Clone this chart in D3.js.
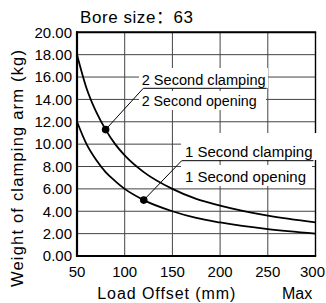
<!DOCTYPE html>
<html>
<head>
<meta charset="utf-8">
<script src="https://cdn.jsdelivr.net/npm/d3@7"></script>
<style>
  body { margin: 0; background: #fff; }
  text { font-family: "Liberation Sans", Arial, "Noto Sans CJK SC", sans-serif; fill: #000; }
</style>
</head>
<body>
<div id="chart"></div>
<script>
// chart values
var offsets    = [50, 60, 70, 80, 90, 100, 120, 150, 175, 200, 250, 300];
var twoSecond  = [18.0, 15.0, 12.9, 11.3, 10.0, 9.0, 7.5, 6.0, 5.1, 4.5, 3.6, 3.0];
var oneSecond  = [12.0, 10.0, 8.6, 7.5, 6.7, 6.0, 5.0, 4.0, 3.4, 3.0, 2.4, 2.0];
var xTicks = [50, 100, 150, 200, 250, 300];
var yTicks = [0, 2, 4, 6, 8, 10, 12, 14, 16, 18, 20];
// marked points for the labels
var twoDot = {x: 80, y: 11.3};
var oneDot = {x: 120, y: 5.0};

var svgWidth = 326;
var svgHeight = 303;

var svg = d3.select("#chart")
  .append("svg")
  .attr("width", svgWidth)
  .attr("height", svgHeight);

var xScale = d3.scaleLinear().domain([50, 300]).range([77, 315.5]);
var yScale = d3.scaleLinear().domain([0, 20]).range([256, 32.3]);

// grid
svg.append("g").selectAll("line")
  .data(yTicks)
  .enter().append("line")
  .attr("x1", xScale(50)).attr("x2", xScale(300))
  .attr("y1", d => yScale(d)).attr("y2", d => yScale(d))
  .attr("stroke", "#444").attr("stroke-width", 1);

svg.append("g").selectAll("line")
  .data(xTicks)
  .enter().append("line")
  .attr("x1", d => xScale(d)).attr("x2", d => xScale(d))
  .attr("y1", yScale(0)).attr("y2", yScale(20))
  .attr("stroke", "#444").attr("stroke-width", 1);

// frame
svg.append("line").attr("x1", xScale(50)).attr("x2", xScale(50))
  .attr("y1", yScale(20) - 1).attr("y2", yScale(0) + 1)
  .attr("stroke", "#000").attr("stroke-width", 2.2);
svg.append("line").attr("x1", xScale(50) - 1).attr("x2", xScale(300) + 0.7)
  .attr("y1", yScale(0)).attr("y2", yScale(0))
  .attr("stroke", "#000").attr("stroke-width", 2);
svg.append("line").attr("x1", xScale(50) - 1).attr("x2", xScale(300) + 0.7)
  .attr("y1", yScale(20)).attr("y2", yScale(20))
  .attr("stroke", "#000").attr("stroke-width", 2);
svg.append("line").attr("x1", xScale(300)).attr("x2", xScale(300))
  .attr("y1", yScale(20)).attr("y2", yScale(0))
  .attr("stroke", "#000").attr("stroke-width", 1.4);

// tick labels
svg.append("g").selectAll("text")
  .data(yTicks)
  .enter().append("text")
  .attr("x", 72)
  .attr("y", d => yScale(d) + 5.3)
  .attr("text-anchor", "end")
  .attr("font-size", "15px")
  .text(d => d.toFixed(2));

svg.append("g").selectAll("text")
  .data(xTicks)
  .enter().append("text")
  .attr("x", d => Math.min(xScale(d), 312.5))
  .attr("y", 277)
  .attr("text-anchor", "middle")
  .attr("font-size", "15px")
  .text(d => d);

// curves
var line = d3.line()
  .x(d => xScale(d[0]))
  .y(d => yScale(d[1]))
  .curve(d3.curveMonotoneX);

[twoSecond, oneSecond].forEach(series => {
  svg.append("path")
    .datum(offsets.map((o, i) => [o, series[i]]))
    .attr("d", line)
    .attr("fill", "none")
    .attr("stroke", "#000")
    .attr("stroke-width", 1.8);
});

// label boxes
var boxes = [
  [139, 68, 129, 20],
  [139, 91, 127, 19],
  [181, 133, 136, 27],
  [181, 165, 131, 21]
];
svg.append("g").selectAll("rect")
  .data(boxes)
  .enter().append("rect")
  .attr("x", d => d[0]).attr("y", d => d[1])
  .attr("width", d => d[2]).attr("height", d => d[3])
  .attr("fill", "#fff");

// leaders + underlines
function leader(dot, lx, ly, ex) {
  svg.append("polyline")
    .attr("points", `${xScale(dot.x)},${yScale(dot.y)} ${lx},${ly} ${ex},${ly}`)
    .attr("fill", "none")
    .attr("stroke", "#000")
    .attr("stroke-width", 1);
  svg.append("circle")
    .attr("cx", xScale(dot.x))
    .attr("cy", yScale(dot.y))
    .attr("r", 3.8)
    .attr("fill", "#000");
}
leader(twoDot, 143.3, 88.3, 266.7);
leader(oneDot, 181.7, 160.7, 313.5);

var labels = [
  ["2 Second clamping", 141.7, 85, 124],
  ["2 Second opening", 141.7, 105.5, 115],
  ["1 Second clamping", 185, 156.5, 127.5],
  ["1 Second opening", 185, 181.5, 121]
];
svg.append("g").selectAll("text")
  .data(labels)
  .enter().append("text")
  .attr("x", d => d[1]).attr("y", d => d[2])
  .attr("font-size", "15.5px")
  .attr("textLength", d => d[3])
  .attr("lengthAdjust", "spacingAndGlyphs")
  .text(d => d[0]);

// titles
svg.append("text")
  .attr("x", 80).attr("y", 23)
  .attr("font-size", "17px")
  .attr("textLength", 113)
  .attr("lengthAdjust", "spacing")
  .text("Bore size：63");

svg.append("text")
  .attr("transform", "translate(22.5, 168.5) rotate(-90)")
  .attr("text-anchor", "middle")
  .attr("font-size", "16.5px")
  .attr("textLength", 237)
  .attr("lengthAdjust", "spacing")
  .text("Weight of clamping arm  (kg)");

svg.append("text")
  .attr("x", 97.3).attr("y", 299.3)
  .attr("font-size", "16px")
  .attr("textLength", 138)
  .attr("lengthAdjust", "spacing")
  .text("Load Offset  (mm)");

svg.append("text")
  .attr("x", 282).attr("y", 299.3)
  .attr("font-size", "16px")
  .text("Max");
</script>
</body>
</html>
